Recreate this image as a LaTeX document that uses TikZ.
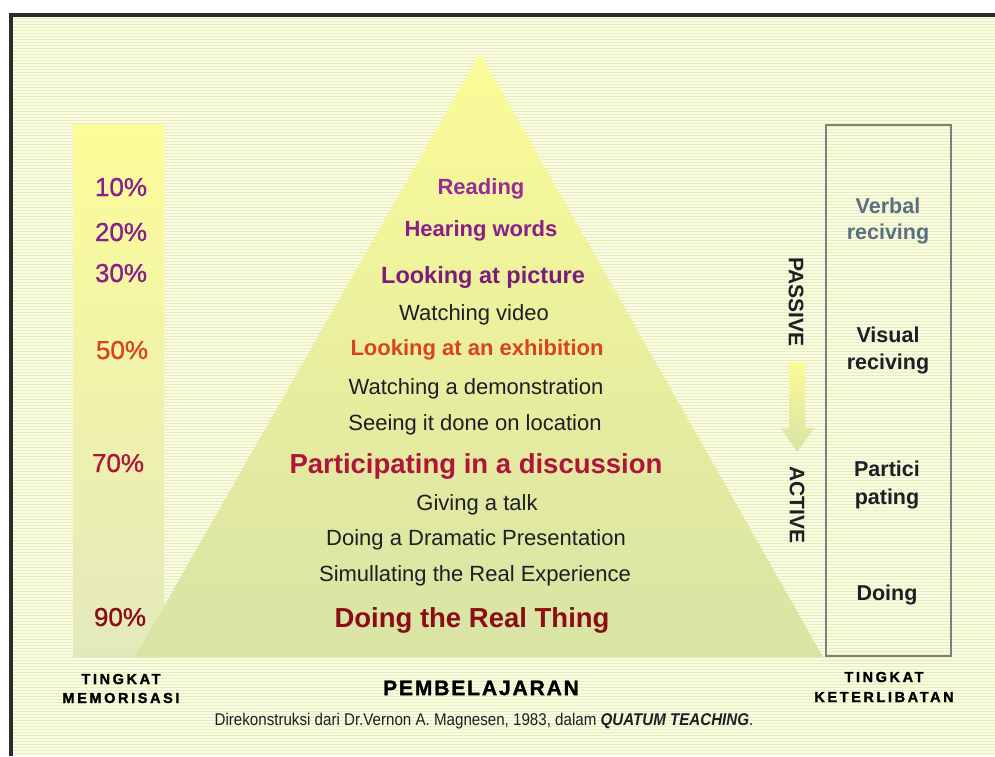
\documentclass[tikz,border=0pt]{standalone}
\usepackage{fontspec}
\usepackage{graphicx}
\setmainfont{Liberation Sans}
\newfontfamily\heavyfont[FakeBold=1.5,LetterSpace=18]{Liberation Sans Bold}
\newfontfamily\heavyfontb[FakeBold=1.5,LetterSpace=9]{Liberation Sans Bold}
\newfontfamily\pctfont[FakeBold=0.9]{Liberation Sans}
\definecolor{frame}{HTML}{2B2B2B}
\definecolor{bgpale}{HTML}{FAFBE4}
\definecolor{bgstripe}{HTML}{E7EEBA}
\definecolor{ytop}{HTML}{FBFB97}
\definecolor{gbot}{HTML}{D8E3A5}
\definecolor{coltop}{HTML}{FCFC98}
\definecolor{colbot}{HTML}{E4E9BC}
\definecolor{purA}{HTML}{9A2A9A}
\definecolor{purB}{HTML}{8A1E8A}
\definecolor{purC}{HTML}{7B1C7B}
\definecolor{orng}{HTML}{D8441C}
\definecolor{crim}{HTML}{B0143C}
\definecolor{dred}{HTML}{8A0C14}
\definecolor{txtdark}{HTML}{1E1E24}
\definecolor{slate}{HTML}{5A7080}
\definecolor{boxgray}{HTML}{7F7F7F}
\tikzset{
  lvlreg/.style={anchor=base,text=txtdark,font=\fontsize{22}{24}\selectfont,inner sep=0pt},
  lvlbold/.style={anchor=base,font=\bfseries\fontsize{22}{24}\selectfont,inner sep=0pt},
  lvlbig/.style={anchor=base,font=\bfseries\fontsize{27.5}{30}\selectfont,inner sep=0pt},
  pct/.style={anchor=base,font=\pctfont\fontsize{26}{28}\selectfont,inner sep=0pt},
  rlabel/.style={anchor=base,font=\bfseries\fontsize{21.5}{24}\selectfont,inner sep=0pt},
  vlabel/.style={rotate=-90,anchor=center,text=txtdark,font=\bfseries\fontsize{21}{24}\selectfont,inner sep=0pt},
  foot/.style={anchor=center,text=black,font=\heavyfont\fontsize{14.5}{16}\selectfont,inner sep=0pt},
  stripe/.style={draw=bgstripe,line width=1.3pt}
}
\begin{document}
\begin{tikzpicture}[x=1pt,y=-1pt]
\useasboundingbox (0,0) rectangle (995,756);
\fill[white] (0,0) rectangle (995,756);
\fill[frame] (9,13) rectangle (995,756);
\fill[bgpale] (13,17) rectangle (995,756);
\foreach \yy in {18.5,21.5,...,756} \draw[stripe] (13,\yy) -- (995,\yy);
% left column
\shade[top color=coltop,bottom color=colbot] (73,124) rectangle (164,657);
% pyramid
\shade[top color=ytop,bottom color=gbot] (480,53) -- (823,657) -- (135,657) -- cycle;
% right box
\draw[boxgray,line width=1.5pt] (826,125) rectangle (951,656);
% arrow
\shade[top color=ytop,bottom color=gbot] (789,362) -- (805,362) -- (805,428) -- (814,428) -- (797,452) -- (781,428) -- (789,428) -- cycle;
% pyramid levels
\node[lvlbold,text=purA] (l1) at (481,194) {Reading};
\node[lvlbold,text=purB] (l2) at (481,236) {Hearing words};
\node[lvlbold,text=purC,font=\bfseries\fontsize{23.5}{26}\selectfont] (l3) at (483,283.5) {Looking at picture};
\node[lvlreg] (l4) at (474,320) {Watching video};
\node[lvlbold,text=orng] (l5) at (477,355) {Looking at an exhibition};
\node[lvlreg] (l6) at (476,394) {Watching a demonstration};
\node[lvlreg] (l7) at (475,430) {Seeing it done on location};
\node[lvlbig,text=crim] (l8) at (476,473) {Participating in a discussion};
\node[lvlreg] (l9) at (477,510) {Giving a talk};
\node[lvlreg] (l10) at (476,545) {Doing a Dramatic Presentation};
\node[lvlreg] (l11) at (475,581) {Simullating the Real Experience};
\node[lvlbig,text=dred] (l12) at (472,627) {Doing the Real Thing};
% percentages
\node[pct,text=purB] (p10) at (121,196) {10\%};
\node[pct,text=purB] (p20) at (121,241) {20\%};
\node[pct,text=purB] (p30) at (121,282) {30\%};
\node[pct,text=orng] (p50) at (122,359) {50\%};
\node[pct,text=crim] (p70) at (118,472) {70\%};
\node[pct,text=dred] (p90) at (120,626) {90\%};
% right labels
\node[rlabel,text=slate] (r1a) at (888,213) {Verbal};
\node[rlabel,text=slate] (r1b) at (888,239) {reciving};
\node[rlabel,text=txtdark] (r2a) at (888,342) {Visual};
\node[rlabel,text=txtdark] (r2b) at (888,369) {reciving};
\node[rlabel,text=txtdark] (r3a) at (887,476) {Partici};
\node[rlabel,text=txtdark] (r3b) at (887,504) {pating};
\node[rlabel,text=txtdark] (r4) at (887,600) {Doing};
% passive / active
\node[vlabel] (pas) at (796,302) {PASSIVE};
\node[vlabel] (act) at (797,505) {ACTIVE};
% bottom labels
\node[foot] (t1) at (121,679) {TINGKAT};
\node[foot] (t2) at (121,698) {MEMORISASI};
\node[foot] (t3) at (884,677) {TINGKAT};
\node[foot] (t4) at (884,697) {KETERLIBATAN};
\node[anchor=center,inner sep=0pt,font=\heavyfontb\fontsize{21}{24}\selectfont] (pem) at (481,688) {PEMBELAJARAN};
\node[anchor=center,inner sep=0pt,text=txtdark,font=\fontsize{17}{19}\selectfont] (cred) at (484,721) {\scalebox{0.89}[1]{Direkonstruksi dari Dr.Vernon A. Magnesen, 1983, dalam \textbf{\textit{QUATUM TEACHING}}.}};
\end{tikzpicture}
\end{document}
